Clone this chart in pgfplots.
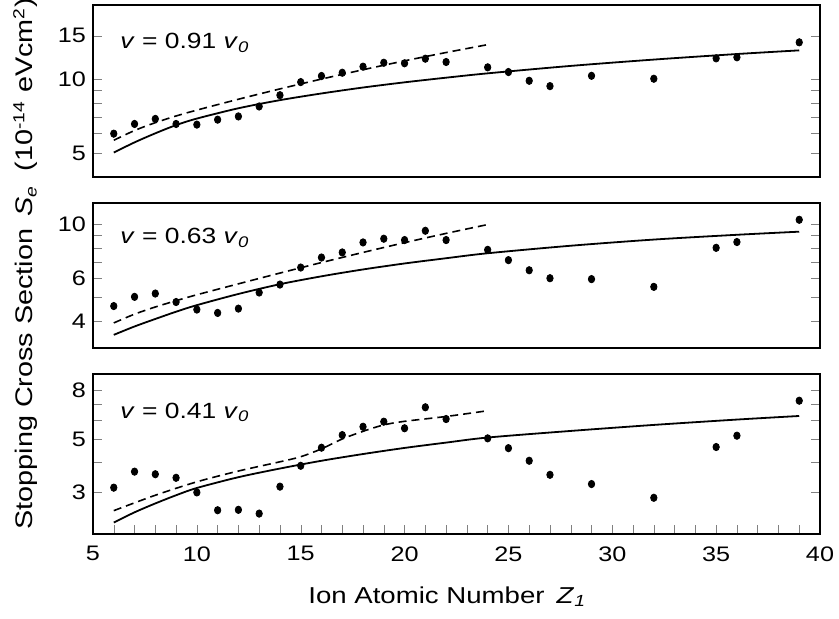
\documentclass[border=0pt]{standalone}
\usepackage{fontspec}
\setmainfont{Liberation Sans}[FakeStretch=1.2]
\usepackage{pgfplots}
\pgfplotsset{compat=1.18}

\pgfplotsset{
  mypanel/.style={
    scale only axis, width=363.5pt, xmin=5, xmax=40,
    axis line style={line width=1pt},
    major tick length=4.5pt, minor tick length=4.5pt,
    tick align=inside,
    ytick pos=both, yticklabel pos=left,
    yticklabel style={font=\fontsize{10.5}{12}\selectfont},
    xticklabel style={font=\fontsize{10.5}{12}\selectfont, yshift=-2.5pt},
    clip=false,
  },
  pts/.style={only marks, mark=*, mark size=1.6pt, mark options={yscale=1.15, fill=black, draw=black}},
  theo/.style={black, line width=0.9pt, smooth, no marks},
  theod/.style={black, line width=0.8pt, smooth, no marks, dash pattern=on 4pt off 2.5pt},
}
\newcommand{\vlab}[1]{\textit{v} = #1 \textit{v}\textsubscript{\textit{0}}}

\begin{document}
\begin{tikzpicture}
\path[use as bounding box] (-46.5pt,2.5pt) rectangle (373pt,-307pt);

% ---------------- top panel ----------------
\begin{axis}[ymode=log, mypanel, at={(0pt,0pt)}, anchor=north west, height=86pt,
  ymin=4, ymax=20, xtick=\empty,
  ytick={5,6,7,8,9,10,15}, yticklabels={5,{},{},{},{},10,15}]
\addplot[pts] coordinates {
(6,6.0) (7,6.57) (8,6.89) (9,6.57) (10,6.53) (11,6.84) (12,7.05) (13,7.74)
(14,8.60) (15,9.72) (16,10.29) (17,10.61) (18,11.23) (19,11.65) (20,11.59)
(21,12.1) (22,11.73) (24,11.16) (25,10.68) (26,9.84) (27,9.36) (29,10.31)
(32,10.03) (35,12.14) (36,12.26) (39,14.1)};
\addplot[theo] coordinates {
(6,5.03) (7,5.53) (8,6.02) (9,6.50) (10,6.91) (12,7.61) (14,8.21) (16,8.74)
(18,9.24) (20,9.70) (22,10.13) (24,10.55) (28,11.31) (32,12.0) (36,12.64) (39,13.08)};
\addplot[theod] coordinates {
(6,5.64) (7,6.18) (8,6.65) (9,7.08) (10,7.48) (12,8.28) (14,9.12) (16,10.0)
(18,10.91) (20,11.86) (22,12.82) (24,13.80)};
\node[anchor=west, inner sep=0pt, font=\fontsize{11}{12}\selectfont] at (rel axis cs:0.037,0.779) {\vlab{0.91}};
\end{axis}

% ---------------- middle panel ----------------
\begin{axis}[ymode=log, mypanel, at={(0pt,-99.15pt)}, anchor=north west, height=72.5pt,
  ymin=3.1, ymax=12.2, xtick=\empty,
  ytick={4,5,6,7,8,9,10}, yticklabels={4,{},6,{},{},{},10}]
\addplot[pts] coordinates {
(6,4.62) (7,5.04) (8,5.2) (9,4.80) (10,4.47) (11,4.33) (12,4.51) (13,5.25)
(14,5.66) (15,6.65) (16,7.31) (17,7.67) (18,8.43) (19,8.73) (20,8.62)
(21,9.41) (22,8.62) (24,7.86) (25,7.13) (26,6.48) (27,6.01) (29,5.96)
(32,5.54) (35,8.01) (36,8.46) (39,10.44)};
\addplot[theo] coordinates {
(6,3.52) (7,3.81) (8,4.09) (9,4.38) (10,4.66) (12,5.18) (14,5.68) (16,6.12)
(18,6.53) (20,6.91) (22,7.26) (24,7.61) (28,8.17) (32,8.66) (36,9.06) (39,9.33)};
\addplot[theod] coordinates {
(6,3.94) (7,4.28) (8,4.58) (9,4.86) (10,5.14) (12,5.70) (14,6.31) (16,6.97)
(18,7.67) (20,8.41) (22,9.18) (24,9.98)};
\node[anchor=west, inner sep=0pt, font=\fontsize{11}{12}\selectfont] at (rel axis cs:0.037,0.761) {\vlab{0.63}};
\end{axis}

% ---------------- bottom panel ----------------
\begin{axis}[ymode=log, mypanel, at={(0pt,-184.65pt)}, anchor=north west, height=80pt,
  ymin=2.01, ymax=9.28,
  xtick={5,10,...,40}, xticklabels={5,10,15,20,25,30,35,40},
  minor x tick num=4, xtick pos=lower,
  ytick={3,4,5,6,7,8}, yticklabels={3,{},5,{},{},8}]
\addplot[pts] coordinates {
(6,3.14) (7,3.66) (8,3.57) (9,3.45) (10,3.0) (11,2.53) (12,2.54) (13,2.45)
(14,3.17) (15,3.87) (16,4.6) (17,5.19) (18,5.62) (19,5.9) (20,5.54)
(21,6.77) (22,6.05) (24,5.03) (25,4.58) (26,4.06) (27,3.55) (29,3.25)
(32,2.85) (35,4.63) (36,5.16) (39,7.21)};
\addplot[theo] coordinates {
(6,2.25) (7,2.48) (8,2.70) (9,2.92) (10,3.13) (12,3.47) (14,3.77) (16,4.06)
(18,4.33) (20,4.59) (22,4.83) (24,5.07) (28,5.40) (32,5.72) (36,6.02) (39,6.23)};
\addplot[theod] coordinates {
(6,2.52) (8,2.92) (10,3.32) (12,3.68) (14,4.02) (15,4.22) (16,4.55) (17,5.0)
(18,5.38) (19,5.72) (20,5.92) (22,6.2) (24,6.55)};
\node[anchor=west, inner sep=0pt, font=\fontsize{11}{12}\selectfont] at (rel axis cs:0.037,0.764) {\vlab{0.41}};
\end{axis}

% ---------------- axis titles ----------------
\node[rotate=90, anchor=base west, inner sep=0pt, font=\fontsize{12}{14}\selectfont]
  at (-30pt,-262.5pt)
  {Stopping Cross Section\hspace{0.5em}\textit{S}\textsubscript{\textit{e}}\hspace{0.6em}(10\textsuperscript{-14} eVcm\textsuperscript{2})};
\node[anchor=base west, inner sep=0pt, font=\fontsize{11.5}{13}\selectfont]
  at (107.5pt,-299pt)
  {Ion Atomic Number\hspace{6pt}\textit{Z}\textsubscript{\textit{1}}};
\end{tikzpicture}
\end{document}
